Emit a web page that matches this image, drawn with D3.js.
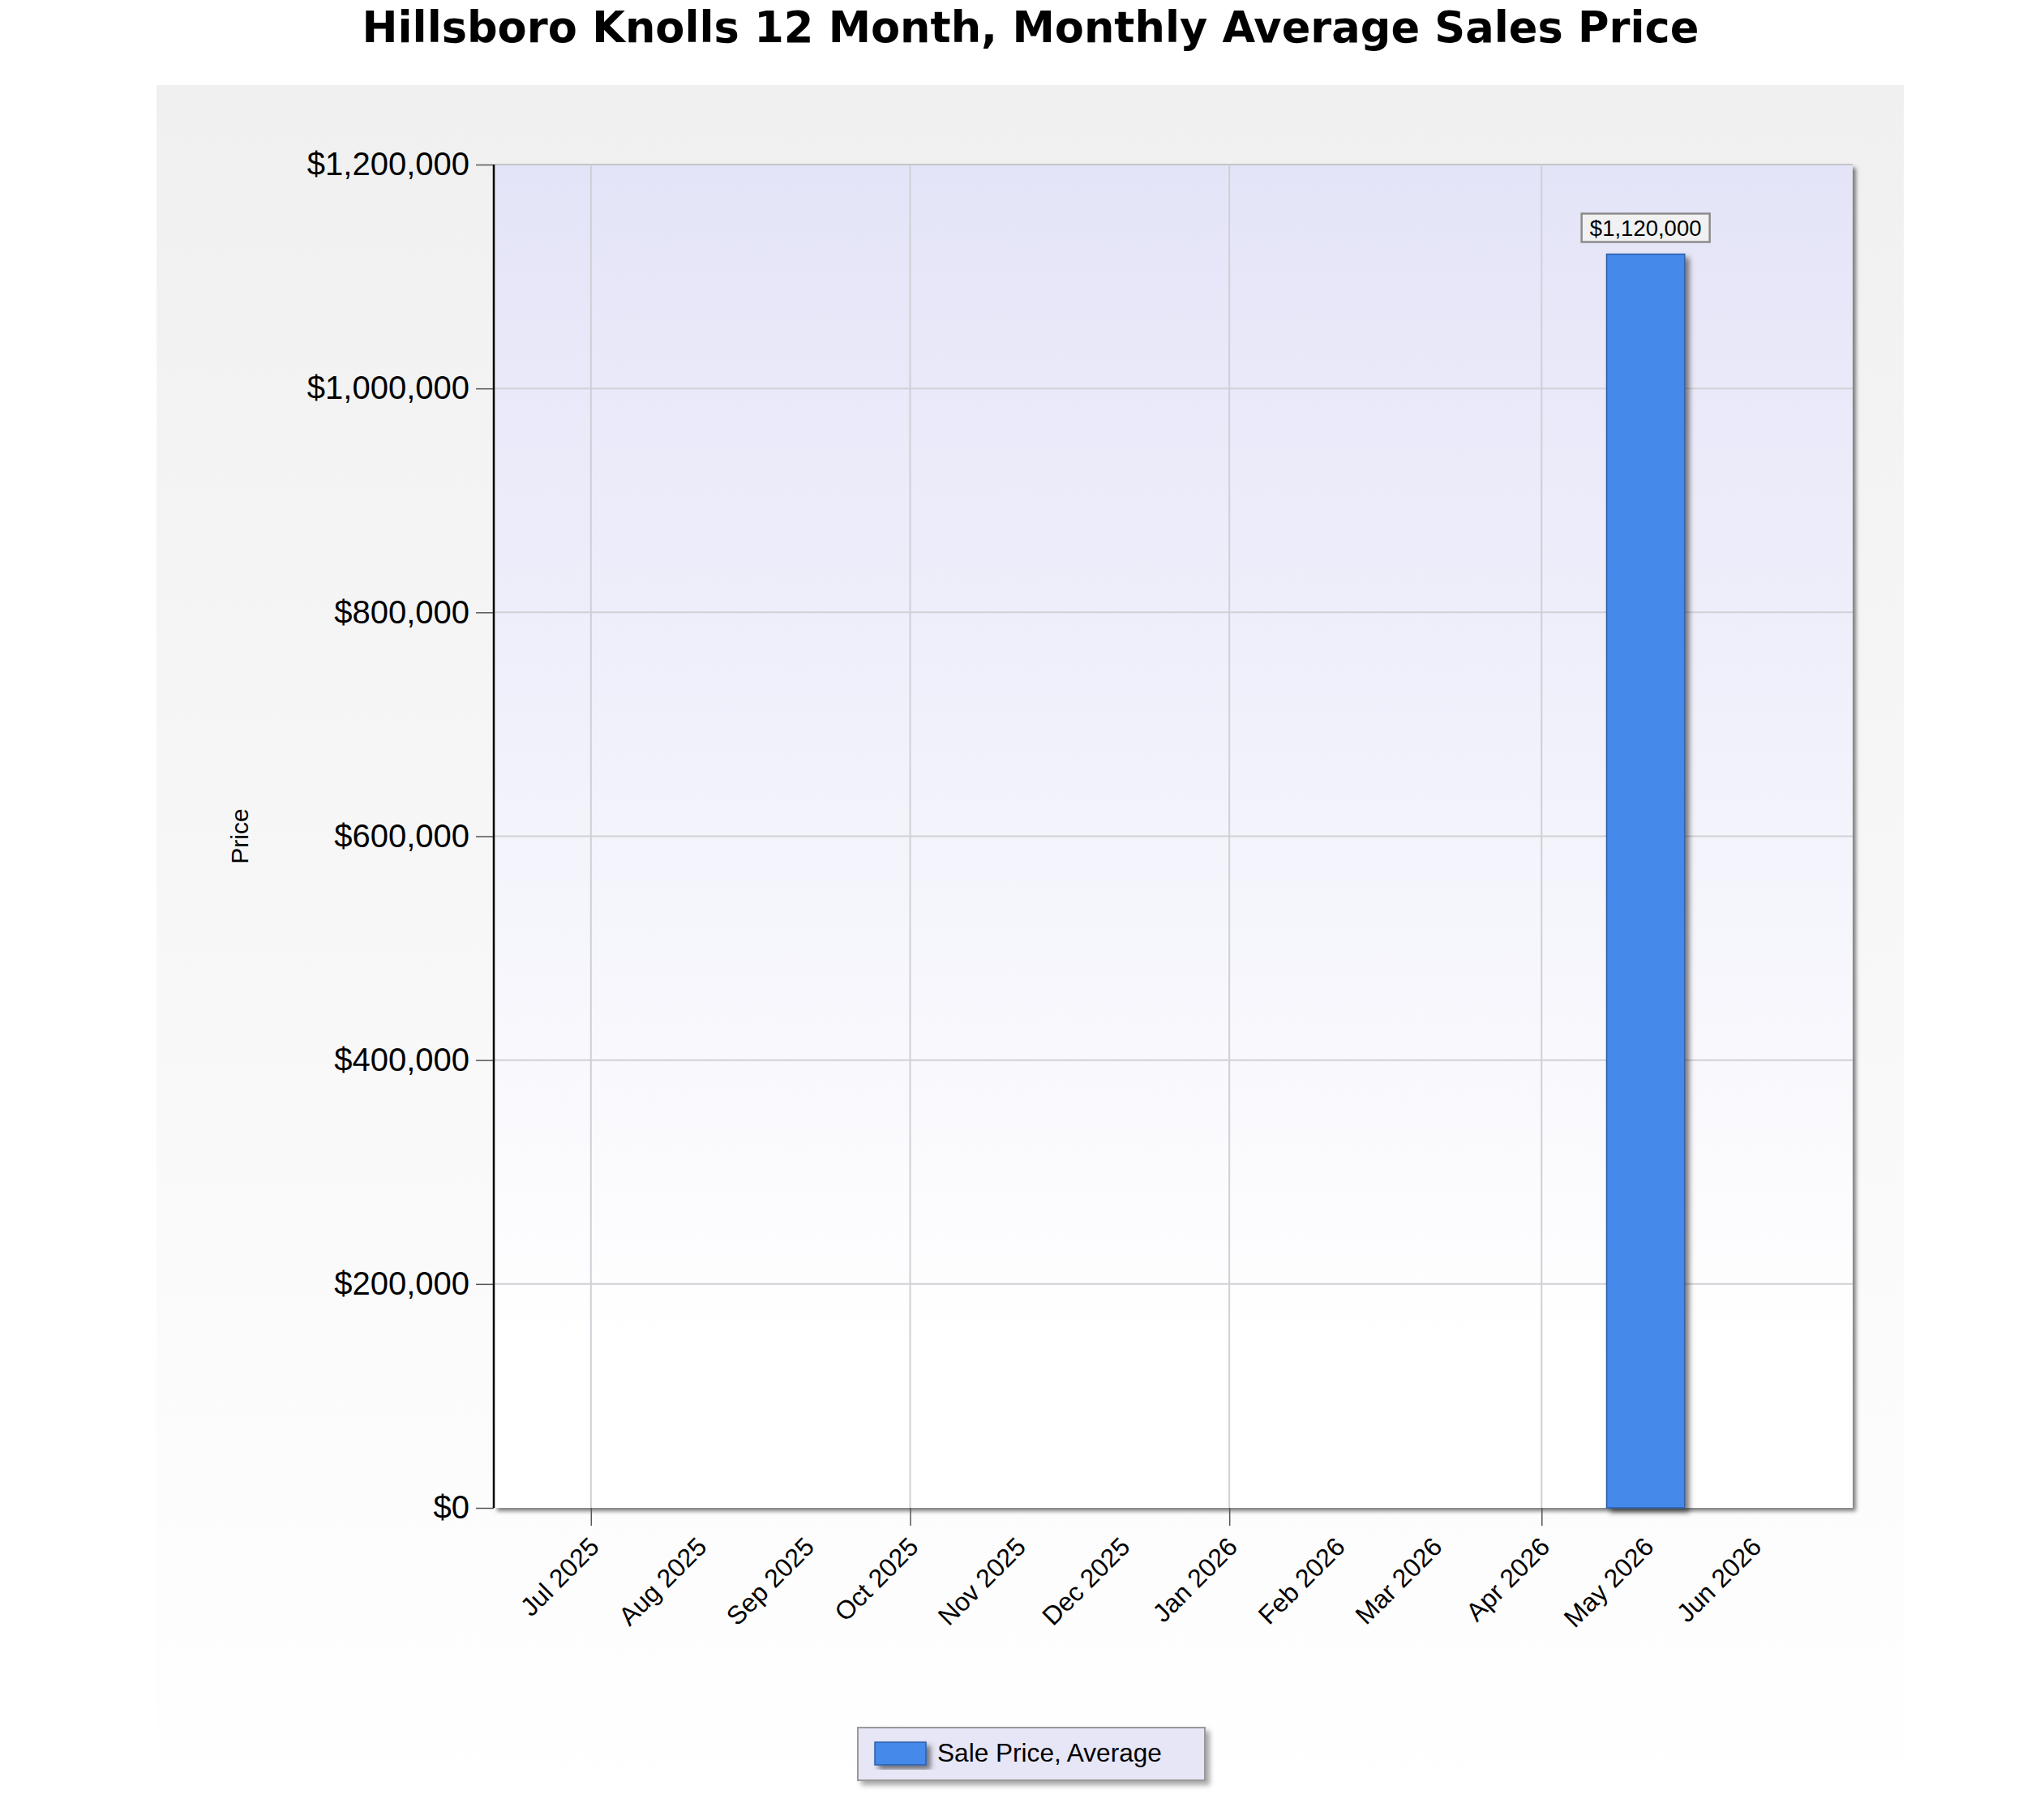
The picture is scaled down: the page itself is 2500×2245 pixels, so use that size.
<!DOCTYPE html>
<html>
<head>
<meta charset="utf-8">
<script src="https://cdn.jsdelivr.net/npm/d3@7"></script>
<style>
  html, body { margin: 0; padding: 0; background: #ffffff; }
  svg { display: block; }
</style>
</head>
<body>
<svg id="chart" width="2500" height="2245"></svg>
<script>
// ---------------- data ----------------
const title = "Hillsboro Knolls 12 Month, Monthly Average Sales Price";
const monthLabels = ["Jul 2025","Aug 2025","Sep 2025","Oct 2025","Nov 2025","Dec 2025",
                     "Jan 2026","Feb 2026","Mar 2026","Apr 2026","May 2026","Jun 2026"];
const monthDates  = ["2025-07-01","2025-08-01","2025-09-01","2025-10-01","2025-11-01","2025-12-01",
                     "2026-01-01","2026-02-01","2026-03-01","2026-04-01","2026-05-01","2026-06-01"];
const salePriceAvg = [null,null,null,null,null,null,null,null,null,null,1120000,null];
const yTickValues = [0,200000,400000,600000,800000,1000000,1200000];
const gridDates   = ["2025-07-01","2025-10-01","2026-01-01","2026-04-01"];
const xDomain     = ["2025-06-03T00:00:00Z","2026-06-29T16:00:00Z"];
const yDomain     = [0,1200000];
const seriesName  = "Sale Price, Average";
const yAxisTitle  = "Price";

// ---------------- layout ----------------
const parse = s => new Date(s.length === 10 ? s + "T00:00:00Z" : s);
const plot = {left: 609, right: 2285, top: 203, bottom: 1860};
const barHalfDays = 11.25;
const BAR = "#448aea";

const svg = d3.select("#chart");
const defs = svg.append("defs");

const panelGrad = defs.append("linearGradient").attr("id","panelGrad")
  .attr("x1",0).attr("y1",0).attr("x2",0).attr("y2",1);
panelGrad.append("stop").attr("offset","0%").attr("stop-color","#f0f0f0");
panelGrad.append("stop").attr("offset","100%").attr("stop-color","#ffffff");

const plotGrad = defs.append("linearGradient").attr("id","plotGrad")
  .attr("x1",0).attr("y1",0).attr("x2",0).attr("y2",1);
plotGrad.append("stop").attr("offset","0%").attr("stop-color","#e4e4f8");
plotGrad.append("stop").attr("offset","88%").attr("stop-color","#ffffff");
plotGrad.append("stop").attr("offset","100%").attr("stop-color","#ffffff");

function shadowFilter(id, dx, dy, blur, opacity) {
  const f = defs.append("filter").attr("id", id)
    .attr("x","-20%").attr("y","-20%").attr("width","140%").attr("height","140%");
  f.append("feDropShadow").attr("dx",dx).attr("dy",dy).attr("stdDeviation",blur)
    .attr("flood-color","#000").attr("flood-opacity",opacity);
}
shadowFilter("plotShadow", 4, 4, 2.5, 0.5);
shadowFilter("barShadow", 5, 5, 3, 0.5);
shadowFilter("boxShadow", 5, 5, 3, 0.35);

// outer panel
svg.append("rect").attr("x",193).attr("y",105).attr("width",2348-193).attr("height",2245-105)
  .attr("fill","url(#panelGrad)");

// title
svg.append("text").attr("x",1271).attr("y",52).attr("text-anchor","middle")
  .attr("font-family","'DejaVu Sans', Verdana, sans-serif").attr("font-weight","bold")
  .attr("font-size",52.6).attr("fill","#000").text(title);

// scales
const x = d3.scaleUtc().domain(xDomain.map(parse)).range([plot.left, plot.right]);
const y = d3.scaleLinear().domain(yDomain).range([plot.bottom, plot.top]);

// plot background with shadow
svg.append("rect").attr("x",plot.left).attr("y",plot.top)
  .attr("width",plot.right-plot.left).attr("height",plot.bottom-plot.top)
  .attr("fill","#ffffff").attr("filter","url(#plotShadow)");
svg.append("rect").attr("x",plot.left).attr("y",plot.top)
  .attr("width",plot.right-plot.left).attr("height",plot.bottom-plot.top)
  .attr("fill","url(#plotGrad)");

// grid lines
const grid = svg.append("g").attr("stroke","#cfcfd6").attr("stroke-width",2);
grid.selectAll("line.h").data(yTickValues.slice(1)).join("line").attr("class","h")
  .attr("x1",plot.left).attr("x2",plot.right).attr("y1",d=>y(d)).attr("y2",d=>y(d))
  .attr("stroke", d => d === yDomain[1] ? "#c4c4c8" : "#d0d0d6");
grid.selectAll("line.v").data(gridDates.map(parse)).join("line").attr("class","v")
  .attr("y1",plot.top).attr("y2",plot.bottom).attr("x1",d=>x(d)).attr("x2",d=>x(d));

// bars
const barData = monthDates.map((d,i)=>({date: parse(d), value: salePriceAvg[i]})).filter(d=>d.value!=null);
const dayMs = 86400000;
svg.append("g").selectAll("rect").data(barData).join("rect")
  .attr("x", d => x(new Date(+d.date - barHalfDays*dayMs)))
  .attr("width", d => x(new Date(+d.date + barHalfDays*dayMs)) - x(new Date(+d.date - barHalfDays*dayMs)))
  .attr("y", d => y(d.value))
  .attr("height", d => y(0) - y(d.value))
  .attr("fill", BAR).attr("stroke","#2d5da8").attr("stroke-width",1.5)
  .attr("filter","url(#barShadow)");

// data labels
const fmt = d3.format("$,.0f");
const lbl = svg.append("g").selectAll("g").data(barData).join("g")
  .attr("transform", d => `translate(${x(d.date)},${y(d.value) - 32})`);
lbl.append("rect").attr("x",-79).attr("y",-18).attr("width",158).attr("height",35)
  .attr("fill","#f1f1f1").attr("stroke","#8c8c8c").attr("stroke-width",2.5);
lbl.append("text").attr("text-anchor","middle").attr("y",9.5)
  .attr("font-family","'Liberation Sans', Arial, sans-serif").attr("font-size",27.5)
  .attr("fill","#000").text(d => fmt(d.value));

// y axis
const yAxis = d3.axisLeft(y).tickValues(yTickValues).tickFormat(fmt).tickSize(22).tickPadding(8);
const gy = svg.append("g").attr("transform",`translate(${plot.left},0)`).call(yAxis);
gy.select(".domain").remove();
gy.selectAll(".tick line").attr("stroke","#555").attr("stroke-width",1.5);
gy.selectAll(".tick text").attr("font-family","'Liberation Sans', Arial, sans-serif")
  .attr("font-size",40).attr("fill","#000");

// x axis ticks (major grid months only) and monthly labels
const xAxis = d3.axisBottom(x).tickValues(gridDates.map(parse)).tickSize(22).tickFormat("");
const gx = svg.append("g").attr("transform",`translate(0,${plot.bottom})`).call(xAxis);
gx.select(".domain").remove();
gx.selectAll(".tick line").attr("stroke","#555").attr("stroke-width",1.5);

svg.append("g").selectAll("text").data(monthDates.map((d,i)=>({date: parse(d), label: monthLabels[i]})))
  .join("text")
  .attr("transform", d => `translate(${x(d.date)+12},${plot.bottom+50}) rotate(-45)`)
  .attr("text-anchor","end")
  .attr("font-family","'Liberation Sans', Arial, sans-serif").attr("font-size",32)
  .attr("fill","#000").text(d => d.label);

// axis lines
svg.append("line").attr("x1",plot.left).attr("x2",plot.left).attr("y1",plot.top).attr("y2",plot.bottom)
  .attr("stroke","#000").attr("stroke-width",2.5);
svg.append("line").attr("x1",plot.left).attr("x2",plot.right).attr("y1",plot.bottom).attr("y2",plot.bottom)
  .attr("stroke","#000").attr("stroke-width",4).attr("filter","url(#plotShadow)");

// y axis title
svg.append("text").attr("transform",`translate(306,${(plot.top+plot.bottom)/2}) rotate(-90)`)
  .attr("text-anchor","middle")
  .attr("font-family","'Liberation Sans', Arial, sans-serif").attr("font-size",30)
  .attr("fill","#000").text(yAxisTitle);

// legend
const lg = svg.append("g").attr("transform","translate(1058,2131)");
lg.append("rect").attr("width",428).attr("height",65).attr("fill","#e6e6f6")
  .attr("stroke","#9a9a9a").attr("stroke-width",2).attr("filter","url(#boxShadow)");
lg.append("rect").attr("x",21).attr("y",18).attr("width",63).attr("height",28)
  .attr("fill",BAR).attr("stroke","#2d5da8").attr("stroke-width",1.5).attr("filter","url(#barShadow)");
lg.append("text").attr("x",98).attr("y",42)
  .attr("font-family","'Liberation Sans', Arial, sans-serif").attr("font-size",31.6)
  .attr("fill","#000").text(seriesName);
</script>
</body>
</html>
